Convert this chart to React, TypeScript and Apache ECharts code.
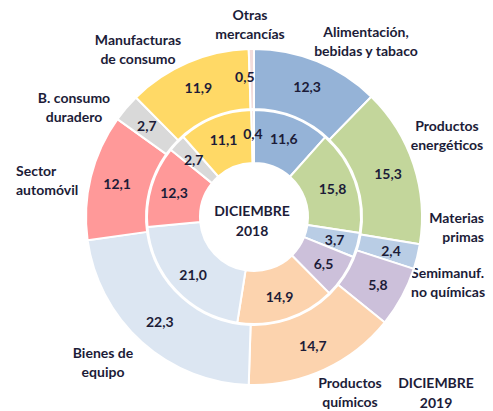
import React, { useEffect, useRef } from "react";
import * as echarts from "echarts";

const categories = [
  "Alimentación,\nbebidas y tabaco",
  "Productos\nenergéticos",
  "Materias\nprimas",
  "Semimanuf.\nno químicas",
  "Productos\nquímicos",
  "Bienes de\nequipo",
  "Sector\nautomóvil",
  "B. consumo\nduradero",
  "Manufacturas\nde consumo",
  "Otras\nmercancías",
];
const values2018 = [11.6, 15.8, 3.7, 6.5, 14.9, 21.0, 12.3, 2.7, 11.1, 0.4];
const values2019 = [12.3, 15.3, 2.4, 5.8, 14.7, 22.3, 12.1, 2.7, 11.9, 0.5];
const colors = [
  "#95B3D7",
  "#C3D69B",
  "#B9CDE5",
  "#CCC0DA",
  "#FCD3AE",
  "#DCE6F2",
  "#FF9999",
  "#D9D9D9",
  "#FFD966",
  "#F2DCDB",
];
const centerTitle = "DICIEMBRE\n2018";
const outerTitle = "DICIEMBRE\n2019";

// label anchor positions for category names (layout only)
const namePos: [number, number, string][] = [
  [366, 41, "center"],
  [447, 135, "center"],
  [484, 227, "right"],
  [411, 282, "left"],
  [350, 392, "center"],
  [103, 362, "center"],
  [16, 180, "left"],
  [74, 107, "center"],
  [138, 49, "center"],
  [250, 24, "center"],
];

const TXT = "#1C1C38";
const FONT = "Lato";
const FS = 14;

export default function App() {
  const ref = useRef<HTMLDivElement>(null);
  useEffect(() => {
    if (!ref.current) return;
    const chart = echarts.init(ref.current, undefined, { renderer: "svg" });
    const fmt = (p: any) => String(p.value.toFixed(1)).replace(".", ",");
    const mkData = (vals: number[], isOuter: boolean) =>
      vals.map((v, i) => ({
        name: categories[i].replace("\n", " "),
        value: v,
        itemStyle: { color: colors[i] },
        label: isOuter && i === 9 ? { offset: [-7, 0] } : undefined,
      }));
    const labelStyle = {
      show: true,
      position: "inside",
      formatter: fmt,
      color: TXT,
      fontFamily: FONT,
      fontWeight: "bold",
      fontSize: FS,
    };
    chart.setOption({
      animation: false,
      series: [
        {
          type: "pie",
          center: [254, 217],
          radius: [54, 107],
          startAngle: 90,
          clockwise: true,
          silent: true,
          label: labelStyle,
          labelLine: { show: false },
          itemStyle: { borderColor: "#fff", borderWidth: 2 },
          data: mkData(values2018, false),
        },
        {
          type: "pie",
          center: [254, 217],
          radius: [108, 168],
          startAngle: 90,
          clockwise: true,
          silent: true,
          label: labelStyle,
          labelLine: { show: false },
          itemStyle: { borderColor: "#fff", borderWidth: 2 },
          data: mkData(values2019, true),
        },
      ],
      graphic: [
        ...categories.map((c, i) => ({
          type: "text",
          x: namePos[i][0],
          y: namePos[i][1],
          style: {
            text: c,
            fill: TXT,
            font: `bold ${FS}px ${FONT}`,
            align: namePos[i][2],
            verticalAlign: "middle",
            lineHeight: 19,
          },
        })),
        {
          type: "text",
          x: 252,
          y: 220,
          style: {
            text: centerTitle,
            fill: TXT,
            font: `bold ${FS}px ${FONT}`,
            align: "center",
            verticalAlign: "middle",
            lineHeight: 20,
          },
        },
        {
          type: "text",
          x: 436,
          y: 392,
          style: {
            text: outerTitle,
            fill: TXT,
            font: `bold ${FS}px ${FONT}`,
            align: "center",
            verticalAlign: "middle",
            lineHeight: 20,
          },
        },
      ],
    });
    return () => chart.dispose();
  }, []);
  return (
    <div
      ref={ref}
      style={{ position: "absolute", left: 0, top: 0, width: 493, height: 411, background: "#fff" }}
    />
  );
}
